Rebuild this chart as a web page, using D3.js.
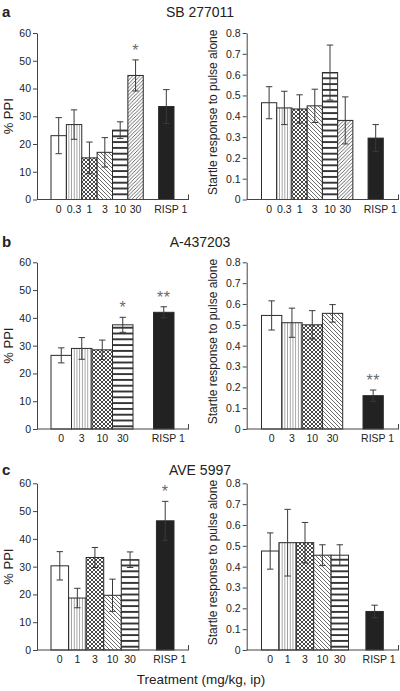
<!DOCTYPE html>
<html>
<head>
<meta charset="utf-8">
<script src="https://cdn.jsdelivr.net/npm/d3@7"></script>
<style>
  html, body { margin: 0; padding: 0; background: #fff; }
  svg { display: block; font-family: "Liberation Sans", Arial, Helvetica, sans-serif; }
</style>
</head>
<body>
<svg id="chart" width="400" height="691"></svg>
<script>
// ---------------- DATA ----------------
const panelLetters = ["a", "b", "c"];
const drugNames = ["SB 277011", "A-437203", "AVE 5997"];
const refLabel = "RISP 1";
const xAxisTitle = "Treatment (mg/kg, ip)";
const leftAxisTitle = "% PPI";
const rightAxisTitle = "Startle response to pulse alone";

const ppiTicks = [0, 10, 20, 30, 40, 50, 60];
const startleTicks = [0, 0.1, 0.2, 0.3, 0.4, 0.5, 0.6, 0.7, 0.8];

// Panel a: SB 277011
const dosesA = ["0", "0.3", "1", "3", "10", "30"];
const ppiA = [23, 27, 15, 17, 25, 44.7, 33.5];
const ppiErrA = [6.5, 5.3, 5.7, 5.3, 3, 5.6, 6.1];
const ppiStarsA = ["", "", "", "", "", "*", ""];
const startleA = [0.465, 0.44, 0.435, 0.45, 0.61, 0.38, 0.295];
const startleErrA = [0.077, 0.08, 0.068, 0.08, 0.132, 0.113, 0.065];
const startleStarsA = ["", "", "", "", "", "", ""];

// Panel b: A-437203
const dosesB = ["0", "3", "10", "30"];
const ppiB = [26.5, 29, 28.5, 37.5, 42];
const ppiErrB = [2.7, 3.9, 3.5, 2.7, 2];
const ppiStarsB = ["", "", "", "*", "**"];
const startleB = [0.545, 0.51, 0.5, 0.555, 0.16];
const startleErrB = [0.07, 0.07, 0.068, 0.042, 0.027];
const startleStarsB = ["", "", "", "", "**"];

// Panel c: AVE 5997
const dosesC = ["0", "1", "3", "10", "30"];
const ppiC = [30.3, 18.7, 33.3, 19.7, 32.5, 46.5];
const ppiErrC = [5.1, 3.5, 3.6, 5.8, 2.8, 7];
const ppiStarsC = ["", "", "", "", "", "*"];
const startleC = [0.475, 0.515, 0.515, 0.455, 0.455, 0.185];
const startleErrC = [0.087, 0.16, 0.097, 0.05, 0.05, 0.03];
const startleStarsC = ["", "", "", "", "", ""];

// ---------------- STYLE / LAYOUT ----------------
const fillsA_left  = ["white", "vert", "cross", "back", "horiz", "fwd", "solid"];
const fillsA_right = ["white", "vert", "cross", "back", "horiz", "fwd", "solid"];
const fillsB_left  = ["white", "vert", "cross", "horiz", "solid"];
const fillsB_right = ["white", "vert", "cross", "back", "solid"];
const fillsC_left  = ["white", "vert", "cross", "back", "horiz", "solid"];
const fillsC_right = ["white", "vert", "cross", "back", "horiz", "solid"];

const rows = [
  { letter: panelLetters[0], name: drugNames[0], doses: dosesA,
    left:  { vals: ppiA, errs: ppiErrA, stars: ppiStarsA, fills: fillsA_left },
    right: { vals: startleA, errs: startleErrA, stars: startleStarsA, fills: fillsA_right },
    top: 33, bottom: 199.5, titleY: 17 },
  { letter: panelLetters[1], name: drugNames[1], doses: dosesB,
    left:  { vals: ppiB, errs: ppiErrB, stars: ppiStarsB, fills: fillsB_left },
    right: { vals: startleB, errs: startleErrB, stars: startleStarsB, fills: fillsB_right },
    top: 262.3, bottom: 429, titleY: 247 },
  { letter: panelLetters[2], name: drugNames[2], doses: dosesC,
    left:  { vals: ppiC, errs: ppiErrC, stars: ppiStarsC, fills: fillsC_left },
    right: { vals: startleC, errs: startleErrC, stars: startleStarsC, fills: fillsC_right },
    top: 483.3, bottom: 650, titleY: 475 }
];

const leftGeom  = { axisX: 37,    bandStart: 51,    bandEnd: 174,   axisEnd: 189 };
const rightGeom = { axisX: 246.7, bandStart: 261.5, bandEnd: 383.3, axisEnd: 399 };

const ink = "#222";
const svg = d3.select("#chart");

// ---------------- PATTERNS ----------------
const defs = svg.append("defs");
function pat(id, w, h, draw) {
  const p = defs.append("pattern").attr("id", id)
    .attr("patternUnits", "userSpaceOnUse").attr("width", w).attr("height", h);
  p.append("rect").attr("width", w).attr("height", h).attr("fill", "#fff");
  draw(p);
}
pat("vert", 2.7, 10, p => p.append("line").attr("x1", 1.35).attr("x2", 1.35).attr("y1", 0).attr("y2", 10)
  .attr("stroke", "#8a8a8a").attr("stroke-width", 0.8));
pat("cross", 4, 4, p => p.append("path").attr("d", "M0,0L4,4M4,0L0,4")
  .attr("stroke", "#333").attr("stroke-width", 0.9).attr("fill", "none"));
pat("back", 4, 4, p => p.append("path").attr("d", "M0,0L4,4M-1,3L1,5M3,-1L5,1")
  .attr("stroke", "#444").attr("stroke-width", 0.8).attr("fill", "none"));
pat("fwd", 3.6, 3.6, p => p.append("path").attr("d", "M0,3.6L3.6,0M-1,1L1,-1M2.6,4.6L4.6,2.6")
  .attr("stroke", "#444").attr("stroke-width", 0.8).attr("fill", "none"));
pat("horiz", 10, 5.8, p => p.append("line").attr("x1", 0).attr("x2", 10).attr("y1", 2.9).attr("y2", 2.9)
  .attr("stroke", "#1a1a1a").attr("stroke-width", 1.7));

function fillFor(k) {
  if (k === "white") return "#fff";
  if (k === "solid") return "#222";
  return `url(#${k})`;
}

// ---------------- DRAW ----------------
function drawPlot(row, side, geom, ticks, fmt) {
  const cats = [...row.doses, "__gap", refLabel];
  const barCats = [...row.doses, refLabel];
  const x = d3.scaleBand().domain(cats).range([geom.bandStart, geom.bandEnd]).paddingInner(0).paddingOuter(0);
  const y = d3.scaleLinear().domain([0, ticks[ticks.length - 1]]).range([row.bottom, row.top]);
  const g = svg.append("g");
  const data = barCats.map((c, i) => ({ c, v: side.vals[i], e: side.errs[i], s: side.stars[i], f: side.fills[i] }));

  // bars
  g.selectAll("rect.bar").data(data).join("rect").attr("class", "bar")
    .attr("x", d => x(d.c)).attr("width", x.bandwidth())
    .attr("y", d => y(d.v)).attr("height", d => y(0) - y(d.v))
    .attr("fill", d => fillFor(d.f)).attr("stroke", "#2a2a2a").attr("stroke-width", 1);

  // error bars
  const cap = 3.2;
  const eb = g.selectAll("g.err").data(data).join("g").attr("class", "err")
    .attr("stroke", "#3a3a3a").attr("stroke-width", 1);
  eb.append("line").attr("x1", d => x(d.c) + x.bandwidth() / 2).attr("x2", d => x(d.c) + x.bandwidth() / 2)
    .attr("y1", d => y(d.v - d.e)).attr("y2", d => y(d.v + d.e));
  eb.append("line").attr("x1", d => x(d.c) + x.bandwidth() / 2 - cap).attr("x2", d => x(d.c) + x.bandwidth() / 2 + cap)
    .attr("y1", d => y(d.v + d.e)).attr("y2", d => y(d.v + d.e));
  eb.append("line").attr("x1", d => x(d.c) + x.bandwidth() / 2 - cap).attr("x2", d => x(d.c) + x.bandwidth() / 2 + cap)
    .attr("y1", d => y(d.v - d.e)).attr("y2", d => y(d.v - d.e));

  // stars
  g.selectAll("text.star").data(data.filter(d => d.s)).join("text").attr("class", "star")
    .attr("x", d => x(d.c) + x.bandwidth() / 2).attr("y", d => y(d.v + d.e) - 4)
    .attr("text-anchor", "middle").attr("font-size", 16).attr("fill", "#6a6a6a")
    .attr("letter-spacing", 0.5)
    .text(d => d.s);

  // y axis
  const ya = svg.append("g").attr("transform", `translate(${geom.axisX},0)`)
    .call(d3.axisLeft(y).tickValues(ticks).tickFormat(fmt).tickSize(4).tickSizeOuter(0).tickPadding(2));
  ya.selectAll("path,line").attr("stroke", "#444");
  ya.selectAll("text").attr("font-size", 10.5).attr("fill", ink).attr("font-family", null);

  // x axis line + end tick
  svg.append("line").attr("x1", geom.axisX).attr("x2", geom.axisEnd).attr("y1", y(0)).attr("y2", y(0))
    .attr("stroke", "#444").attr("stroke-width", 1);
  svg.append("line").attr("x1", geom.axisEnd - 0.5).attr("x2", geom.axisEnd - 0.5).attr("y1", y(0)).attr("y2", y(0) - 5)
    .attr("stroke", "#444").attr("stroke-width", 1);

  // x labels
  const xa = svg.append("g").attr("transform", `translate(0,${y(0)})`)
    .call(d3.axisBottom(x).tickValues(barCats).tickSize(0).tickPadding(6));
  xa.select(".domain").remove();
  xa.selectAll("text").attr("font-size", 10.5).attr("fill", ink).attr("font-family", null)
    .attr("dx", d => d === refLabel ? 4.5 : 0);
  return y;
}

rows.forEach(row => {
  drawPlot(row, row.left, leftGeom, ppiTicks, d3.format("d"));
  drawPlot(row, row.right, rightGeom, startleTicks, d => d === 0 ? "0" : d3.format(".1f")(d));

  svg.append("text").attr("x", 2).attr("y", row.titleY).attr("font-size", 15).attr("font-weight", "bold")
    .attr("fill", ink).text(row.letter);
  svg.append("text").attr("x", 200).attr("y", row.titleY).attr("text-anchor", "middle")
    .attr("font-size", 14).attr("fill", ink).text(row.name);

  const mid = (row.top + row.bottom) / 2;
  svg.append("text").attr("transform", `translate(12.5,${mid}) rotate(-90)`).attr("text-anchor", "middle")
    .attr("font-size", 13).attr("fill", ink).text(leftAxisTitle);
  svg.append("text").attr("transform", `translate(217,${mid - 4}) rotate(-90)`).attr("text-anchor", "middle")
    .attr("font-size", 12).attr("fill", ink).text(rightAxisTitle);
});

svg.append("text").attr("x", 201).attr("y", 684).attr("text-anchor", "middle")
  .attr("font-size", 13.5).attr("fill", ink).text(xAxisTitle);
</script>
</body>
</html>
